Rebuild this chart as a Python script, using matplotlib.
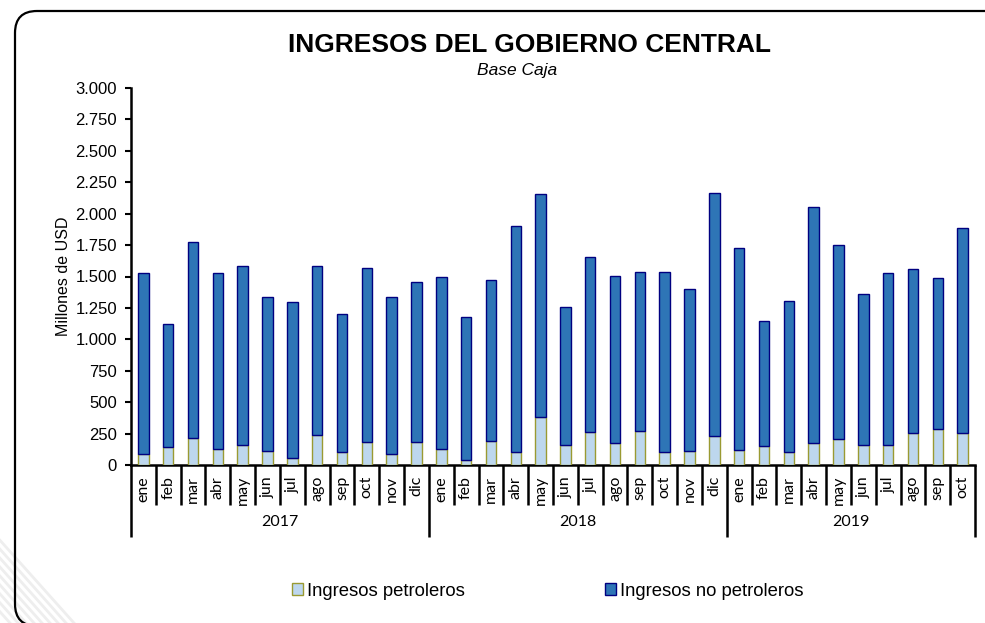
import numpy as np
import matplotlib
matplotlib.use('Agg')
import matplotlib.pyplot as plt
from matplotlib.patches import FancyBboxPatch
from matplotlib.lines import Line2D
from matplotlib.ticker import FuncFormatter, MultipleLocator
from matplotlib.transforms import IdentityTransform

# Data (millones de USD)
months = ['ene', 'feb', 'mar', 'abr', 'may', 'jun', 'jul', 'ago', 'sep', 'oct', 'nov', 'dic',
          'ene', 'feb', 'mar', 'abr', 'may', 'jun', 'jul', 'ago', 'sep', 'oct', 'nov', 'dic',
          'ene', 'feb', 'mar', 'abr', 'may', 'jun', 'jul', 'ago', 'sep', 'oct']
years = ['2017', '2018', '2019']
months_per_year = [12, 12, 10]

petroleros = [85, 141, 215, 130, 157, 111, 53, 239, 106, 186, 88, 180,
              125, 42, 191, 101, 382, 159, 263, 175, 268, 106, 108, 233,
              119, 154, 101, 172, 210, 159, 161, 257, 284, 257]
totales = [1525, 1125, 1775, 1530, 1581, 1337, 1300, 1586, 1204, 1570, 1337, 1454,
           1496, 1180, 1470, 1904, 2154, 1257, 1653, 1507, 1533, 1538, 1401, 2162,
           1728, 1143, 1305, 2056, 1748, 1363, 1525, 1557, 1488, 1886]
no_petroleros = [t - p for t, p in zip(totales, petroleros)]

W, H = 985, 623
fig = plt.figure(figsize=(W / 100, H / 100), dpi=100)
fig.patch.set_facecolor('white')

# faint diagonal watermark in the lower-left corner
for k in range(9):
    x0 = -75 + k * 8
    fig.add_artist(Line2D([x0, x0 + 85], [95, 0], transform=IdentityTransform(),
                          color='#eeeeee', linewidth=2.0, zorder=0))

# rounded frame around the chart (right/bottom run off the image)
frame = FancyBboxPatch((15, -3), 1010, 615, boxstyle='round,pad=0,rounding_size=22',
                       transform=IdentityTransform(), fill=False, edgecolor='black',
                       linewidth=1.6, zorder=1)
fig.patches.append(frame)

ax = fig.add_axes([131 / W, 1 - 465 / H, (975 - 131) / W, (465 - 88) / H])
ax.patch.set_alpha(0)

x = np.arange(len(months))
bw = 0.42
ax.bar(x, petroleros, bw, color='#BDD7EE', edgecolor='#9A9A32', linewidth=1.0,
       label='Ingresos petroleros', zorder=3)
ax.bar(x, no_petroleros, bw, bottom=petroleros, color='#2E75B6', edgecolor='#000080',
       linewidth=1.0, label='Ingresos no petroleros', zorder=3)

ax.set_xlim(-0.5, len(months) - 0.5)
ax.set_ylim(0, 3000)
ax.yaxis.set_major_locator(MultipleLocator(250))
ax.yaxis.set_major_formatter(FuncFormatter(lambda v, p: f'{int(v):,}'.replace(',', '.')))

for s in ['top', 'right']:
    ax.spines[s].set_visible(False)
ax.spines['left'].set_linewidth(1.8)
ax.spines['bottom'].set_linewidth(1.8)
ax.tick_params(axis='y', direction='out', length=4, width=1.5, pad=6,
               labelsize=12, labelfontfamily='Liberation Sans')

ax.set_xticks(x)
ax.set_xticklabels(months, rotation=90, va='top', ha='center', family='Lato', fontsize=11.5)
ax.tick_params(axis='x', length=0, pad=8)

ax.set_ylabel('Millones de USD', family='Liberation Sans', fontsize=11.5, labelpad=3)

# category separators and year groups below the axis
trans = ax.get_xaxis_transform()
month_depth = -40 / 377
year_depth = -72 / 377
edges = np.cumsum([0] + months_per_year)
for b in range(len(months) + 1):
    xb = b - 0.5
    d = year_depth if b in edges else month_depth
    ax.plot([xb, xb], [0, d], color='black', linewidth=1.8, transform=trans,
            clip_on=False, solid_capstyle='butt')
for i, yr in enumerate(years):
    xc = (edges[i] + edges[i + 1]) / 2 - 0.5
    ax.text(xc, -57 / 377, yr, transform=trans, ha='center', va='center',
            family='Lato', fontsize=11.5)

fig.text(529 / W, 1 - 45 / H, 'INGRESOS DEL GOBIERNO CENTRAL', ha='center', va='center',
         family='Liberation Sans', fontweight='bold', fontsize=19)
fig.text(517 / W, 1 - 71 / H, 'Base Caja', ha='center', va='center',
         family='Liberation Sans', style='italic', fontsize=12.5)

leg = fig.legend(loc='center', bbox_to_anchor=(548 / W, 1 - 591 / H), ncol=2, frameon=False,
                 prop={'family': 'Liberation Sans', 'size': 13.3}, handlelength=0.6,
                 handleheight=0.6, handletextpad=0.2, columnspacing=7.6)

fig.savefig('out.png', dpi=100)
